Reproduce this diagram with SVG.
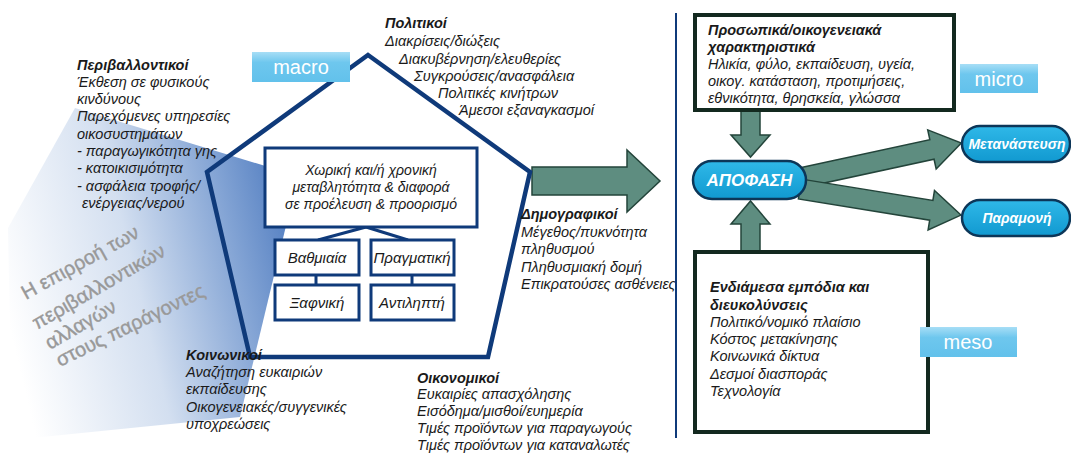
<svg xmlns="http://www.w3.org/2000/svg" width="1071" height="453" viewBox="0 0 1071 453">
<style>
  .t { font-family: "Liberation Sans", Arial, sans-serif; font-size: 14.5px; font-style: italic; fill: #1a1a1a; }
  .b { font-weight: bold; }
  .s { font-size: 14px; }
  .m { font-size: 15px; }
  .pent { fill: none; stroke: #0f3a7a; stroke-width: 4.5; stroke-linejoin: miter; }
  .box { fill: #ffffff; stroke: #0f3a7a; stroke-width: 3; }
  .gbox { fill: #ffffff; stroke: #13291f; stroke-width: 4; }
  .garrow { fill: #5e8d80; stroke: #23443a; stroke-width: 1.5; stroke-linejoin: miter; }
  .pill { fill: url(#pillg); stroke: #0c3658; stroke-width: 2.5; }
  .pt { font-family: "Liberation Sans", Arial, sans-serif; font-weight: bold; font-style: italic; fill: #ffffff; text-anchor: middle; }
  .lbl { fill: url(#lblg); }
  .lt { font-family: "Liberation Sans", Arial, sans-serif; font-size: 20px; fill: #ffffff; text-anchor: middle; }
  .gray { font-family: "Liberation Sans", Arial, sans-serif; font-size: 20px; fill: #999999; stroke: #999999; stroke-width: 0.4; }
  .con { stroke: #0f3a7a; stroke-width: 3; fill: none; }
</style>
<defs>
  <linearGradient id="beam" gradientUnits="userSpaceOnUse" x1="10" y1="330" x2="300" y2="260">
    <stop offset="0" stop-color="#ffffff"/>
    <stop offset="0.45" stop-color="#d3dff0"/>
    <stop offset="0.8" stop-color="#82a3d4"/>
    <stop offset="1" stop-color="#5580c2"/>
  </linearGradient>
  <linearGradient id="lblg" x1="0" y1="0" x2="0" y2="1">
    <stop offset="0" stop-color="#a7def6"/>
    <stop offset="0.35" stop-color="#6ec7ee"/>
    <stop offset="1" stop-color="#62c1eb"/>
  </linearGradient>
  <linearGradient id="pillg" x1="0" y1="0" x2="0" y2="1">
    <stop offset="0" stop-color="#2fb8e8"/>
    <stop offset="1" stop-color="#1199d0"/>
  </linearGradient>
</defs>

<!-- background beam -->
<polygon id="beam-shape" points="75,108 298,176 240,417 12,440 8,228" fill="url(#beam)"/>
<g id="beam-text">
  <text class="gray" transform="translate(26,300) rotate(-29)">Η επιρροή των</text>
  <text class="gray" transform="translate(37,330) rotate(-30)">περιβαλλοντικών</text>
  <text class="gray" transform="translate(50,350) rotate(-30)">αλλαγών</text>
  <text class="gray" transform="translate(60,367) rotate(-26)">στους παράγοντες</text>
</g>

<!-- big arrow -->
<g id="big-arrow">
  <polygon class="garrow" points="532,167 627,167 627,150 660,181 627,212 627,195 532,195"/>
</g>

<!-- pentagon -->
<g id="pentagon">
  <polygon class="pent" points="368,55 530,172 488,357 250,357 207,172"/>
</g>

<!-- connectors -->
<g id="connectors">
  <line class="con" x1="366" y1="227" x2="318" y2="240"/>
  <line class="con" x1="366" y1="227" x2="408" y2="240"/>
  <line class="con" x1="316" y1="275" x2="316" y2="285"/>
  <line class="con" x1="412" y1="275" x2="412" y2="285"/>
  <polygon class="garrow" points="741,110 760,110 760,135 770,135 750.5,157 731,135 741,135"/>
  <polygon class="garrow" points="741,252 760,252 760,224 770,224 750.5,201 731,224 741,224"/>
  <polygon class="garrow" transform="translate(800,178) rotate(-12.2)" points="0,-10 135,-10 135,-20 165,0 135,20 135,10 0,10"/>
  <polygon class="garrow" transform="translate(800,189) rotate(9.2)" points="0,-10 133,-10 133,-20 163,0 133,20 133,10 0,10"/>
</g>

<g id="central-box">
  <rect class="box" x="265" y="148" width="212" height="79"/>
  <text class="t s" text-anchor="middle" x="371" y="175">Χωρική και/ή χρονική</text>
  <text class="t s" text-anchor="middle" x="371" y="192">μεταβλητότητα &amp; διαφορά</text>
  <text class="t s" text-anchor="middle" x="371" y="209">σε προέλευση &amp; προορισμό</text>
</g>
<g id="box-vathmiaia">
  <rect class="box" x="275" y="240" width="84" height="35"/>
  <text class="t m" text-anchor="middle" x="317" y="263">Βαθμιαία</text>
</g>
<g id="box-pragmatiki">
  <rect class="box" x="371" y="240" width="83" height="35"/>
  <text class="t m" text-anchor="middle" x="412" y="263">Πραγματική</text>
</g>
<g id="box-xafniki">
  <rect class="box" x="275" y="285" width="84" height="35"/>
  <text class="t m" text-anchor="middle" x="317" y="308">Ξαφνική</text>
</g>
<g id="box-antilipti">
  <rect class="box" x="371" y="285" width="83" height="35"/>
  <text class="t m" text-anchor="middle" x="412" y="308">Αντιληπτή</text>
</g>

<g id="label-macro">
  <rect class="lbl" x="252" y="52" width="98" height="30"/>
  <text class="lt" x="301" y="74">macro</text>
</g>

<g id="environmental">
  <text class="t b" x="77" y="70">Περιβαλλοντικοί</text>
  <text class="t" x="77" y="87">Έκθεση σε φυσικούς</text>
  <text class="t" x="77" y="104">κινδύνους</text>
  <text class="t" x="77" y="121">Παρεχόμενες υπηρεσίες</text>
  <text class="t" x="77" y="139">οικοσυστημάτων</text>
  <text class="t" x="77" y="156">- παραγωγικότητα γης</text>
  <text class="t" x="77" y="173">- κατοικισιμότητα</text>
  <text class="t" x="77" y="191">- ασφάλεια τροφής/</text>
  <text class="t" x="82" y="208">ενέργειας/νερού</text>
</g>

<g id="political">
  <text class="t b" x="385" y="28">Πολιτικοί</text>
  <text class="t" x="385" y="46">Διακρίσεις/διώξεις</text>
  <text class="t" x="399" y="64">Διακυβέρνηση/ελευθερίες</text>
  <text class="t" x="414" y="81">Συγκρούσεις/ανασφάλεια</text>
  <text class="t" x="438" y="98">Πολιτικές κινήτρων</text>
  <text class="t" x="459" y="115">Άμεσοι εξαναγκασμοί</text>
</g>

<g id="demographic">
  <text class="t b" x="521" y="219">Δημογραφικοί</text>
  <text class="t" x="521" y="237">Μέγεθος/πυκνότητα</text>
  <text class="t" x="521" y="254">πληθυσμού</text>
  <text class="t" x="521" y="272">Πληθυσμιακή δομή</text>
  <text class="t" x="521" y="289" font-size="14">Επικρατούσες ασθένειες</text>
</g>

<g id="social">
  <text class="t b" x="186" y="360">Κοινωνικοί</text>
  <text class="t" x="186" y="377">Αναζήτηση ευκαιριών</text>
  <text class="t" x="186" y="394">εκπαίδευσης</text>
  <text class="t" x="186" y="412">Οικογενειακές/συγγενικές</text>
  <text class="t" x="186" y="429">υποχρεώσεις</text>
</g>

<g id="economic">
  <text class="t b" x="417" y="383">Οικονομικοί</text>
  <text class="t" x="417" y="399">Ευκαιρίες απασχόλησης</text>
  <text class="t" x="417" y="416">Εισόδημα/μισθοί/ευημερία</text>
  <text class="t" x="417" y="433">Τιμές προϊόντων για παραγωγούς</text>
  <text class="t" x="417" y="450">Τιμές προϊόντων για καταναλωτές</text>
</g>

<line id="divider" x1="676" y1="13" x2="676" y2="438" stroke="#0f3a7a" stroke-width="2"/>

<g id="personal-box">
  <rect class="gbox" x="695" y="15" width="259" height="95"/>
  <text class="t b" x="708" y="35">Προσωπικά/οικογενειακά</text>
  <text class="t b" x="708" y="52">χαρακτηριστικά</text>
  <text class="t" x="708" y="69">Ηλικία, φύλο, εκπαίδευση, υγεία,</text>
  <text class="t" x="708" y="86">οικογ. κατάσταση, προτιμήσεις,</text>
  <text class="t" x="708" y="103">εθνικότητα, θρησκεία, γλώσσα</text>
</g>

<g id="label-micro">
  <rect class="lbl" x="960" y="64" width="78" height="29"/>
  <text class="lt" x="999" y="86">micro</text>
</g>

<g id="decision">
  <rect class="pill" x="693" y="161" width="113" height="38" rx="19"/>
  <text class="pt" x="749.5" y="186" font-size="17">ΑΠΟΦΑΣΗ</text>
</g>

<g id="migration">
  <rect class="pill" x="962" y="126" width="108" height="36" rx="18"/>
  <text class="pt" x="1017" y="149" font-size="14">Μετανάστευση</text>
</g>

<g id="stay">
  <rect class="pill" x="962" y="200" width="108" height="36" rx="18"/>
  <text class="pt" x="1017" y="223" font-size="14">Παραμονή</text>
</g>

<g id="meso-box">
  <rect class="gbox" x="695" y="252" width="233" height="180"/>
  <text class="t b" x="710" y="292">Ενδιάμεσα εμπόδια και</text>
  <text class="t b" x="710" y="310">διευκολύνσεις</text>
  <text class="t" x="710" y="327">Πολιτικό/νομικό πλαίσιο</text>
  <text class="t" x="710" y="344">Κόστος μετακίνησης</text>
  <text class="t" x="710" y="361">Κοινωνικά δίκτυα</text>
  <text class="t" x="710" y="379">Δεσμοί διασποράς</text>
  <text class="t" x="710" y="396">Τεχνολογία</text>
</g>

<g id="label-meso">
  <rect class="lbl" x="920" y="327" width="97" height="30"/>
  <text class="lt" x="968" y="349">meso</text>
</g>
</svg>
